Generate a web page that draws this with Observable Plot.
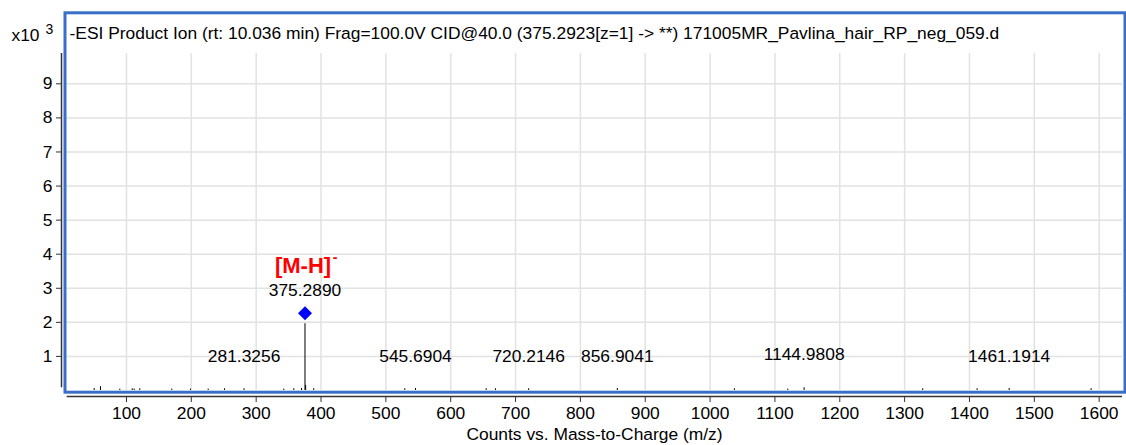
<!DOCTYPE html>
<html><head><meta charset="utf-8">
<script src="https://cdn.jsdelivr.net/npm/d3@7"></script>
<script src="https://cdn.jsdelivr.net/npm/@observablehq/plot@0.6"></script>
<style>
body{margin:0;background:#fff;}
#chart svg{display:block;}
</style>
</head><body><div id="chart"></div>
<script>
// Spectrum peaks (m/z, counts x10^3)
const peakMz = [50.2, 59.9, 89.7, 108.8, 111.9, 120.5, 169.9, 198.7, 226.0, 251.1, 281.3256, 342.6, 358.0, 369.9, 375.2890, 376.29, 388.8, 529.2, 545.6904, 654.7, 669.0, 720.2146, 856.9041, 1037.5, 1119.8, 1144.9808, 1327.9, 1411.8, 1461.1914, 1587.6];
const peakCounts = [0.06, 0.11, 0.04, 0.05, 0.04, 0.05, 0.04, 0.04, 0.04, 0.05, 0.05, 0.04, 0.05, 0.06, 1.96, 0.15, 0.05, 0.05, 0.06, 0.05, 0.05, 0.05, 0.06, 0.05, 0.04, 0.08, 0.05, 0.05, 0.06, 0.05];

// Peak labels
const labelMz = [281.3256, 545.6904, 720.2146, 856.9041, 1144.9808, 1461.1914];
const labelText = ["281.3256", "545.6904", "720.2146", "856.9041", "1144.9808", "1461.1914"];
const labelY = [1.0, 1.0, 1.0, 1.0, 1.05, 1.0];

// Precursor
const precursorMz = [375.2890];
const precursorMarkY = [2.27];
const precursorText = ["375.2890"];
const precursorTextY = [2.93];
const ionText = ["[M-H]"];
const ionTextY = [3.66];
const ionCharge = ["-"];

// Axes
const xTicks = [100, 200, 300, 400, 500, 600, 700, 800, 900, 1000, 1100, 1200, 1300, 1400, 1500, 1600];
const yTicks = [1, 2, 3, 4, 5, 6, 7, 8, 9];
const xDomain = [7.5, 1636];
const yDomain = [0, 9.89];

const titleText = "-ESI Product Ion (rt: 10.036 min) Frag=100.0V CID@40.0 (375.2923[z=1] -> **) 171005MR_Pavlina_hair_RP_neg_059.d";
const xLabel = "Counts vs. Mass-to-Charge (m/z)";
const yScaleText = "x10";
const yScaleExp = "3";

const peaks = peakMz.map((m, i) => ({mz: m, c: peakCounts[i]}));
const labels = labelMz.map((m, i) => ({mz: m, y: labelY[i], t: labelText[i]}));

const blue = "#3a6fc9";
const fs = 17.4;

const chart = Plot.plot({
  width: 1126,
  height: 445,
  marginLeft: 66,
  marginRight: 4,
  marginTop: 53,
  marginBottom: 55,
  style: {fontFamily: "'Liberation Sans', Arial, sans-serif", fontSize: fs + "px", color: "#000", background: "#fff"},
  x: {domain: xDomain},
  y: {domain: yDomain},
  marks: [
    Plot.gridX(xTicks, {stroke: "#e2e2e2", strokeOpacity: 1, strokeWidth: 1.5}),
    Plot.gridY(yTicks, {stroke: "#e2e2e2", strokeOpacity: 1, strokeWidth: 1.5}),
    Plot.frame({stroke: blue, strokeWidth: 3, insetTop: -40.7, insetLeft: -1.5, insetRight: -2.5, insetBottom: -1.7}),
    Plot.ruleX(peaks, {x: "mz", y1: 0, y2: "c", stroke: "#000", strokeWidth: 1}),
    Plot.dot(precursorMz.map((m, i) => ({mz: m, y: precursorMarkY[i]})), {x: "mz", y: "y", symbol: "diamond2", r: 6.3, fill: "#0000ff", stroke: "none"}),
    Plot.text(precursorMz.map((m, i) => ({mz: m, y: precursorTextY[i], t: precursorText[i]})), {x: "mz", y: "y", text: "t", fontSize: fs, fill: "#000"}),
    Plot.text(precursorMz.map((m, i) => ({mz: m, y: ionTextY[i], t: ionText[i]})), {x: "mz", y: "y", text: "t", fontSize: 22, fontWeight: "bold", fill: "#ff0000", dx: -2}),
    Plot.text(precursorMz.map((m, i) => ({mz: m, y: ionTextY[i], t: ionCharge[i]})), {x: "mz", y: "y", text: "t", fontSize: 14, fontWeight: "bold", fill: "#ff0000", dx: 30, dy: -8}),
    Plot.text(labels, {x: "mz", y: "y", text: "t", fontSize: fs, fill: "#000"}),
    // y axis
    Plot.ruleX([xDomain[0]], {y1: 0.08, y2: yDomain[1], dx: -5, stroke: "#333", strokeWidth: 1.5}),
    Plot.axisY(yTicks, {tickSize: 5, dx: -5, tickPadding: 4, fontSize: fs, stroke: "#333", fill: "#000", label: null}),
    // x axis
    Plot.ruleY([0], {x1: xDomain[0] + 1, x2: xDomain[1], dy: 6, stroke: "#333", strokeWidth: 1.5}),
    Plot.axisX(xTicks, {tickSize: 6, dy: 6, tickPadding: 4, fontSize: fs, tickFormat: d => String(d), stroke: "#333", fill: "#000", label: null}),
    // texts
    Plot.text([titleText], {frameAnchor: "top-left", dx: 3, dy: -20, textAnchor: "start", lineAnchor: "middle", fontSize: fs, fill: "#000"}),
    Plot.text([yScaleText], {frameAnchor: "top-left", dx: -55, dy: -18, textAnchor: "start", lineAnchor: "middle", fontSize: fs, fill: "#000"}),
    Plot.text([yScaleExp], {frameAnchor: "top-left", dx: -21, dy: -24, textAnchor: "start", lineAnchor: "middle", fontSize: 14, fill: "#000"}),
    Plot.text([xLabel], {frameAnchor: "bottom", dy: 44, lineAnchor: "middle", fontSize: fs, fill: "#000"})
  ]
});
document.getElementById("chart").appendChild(chart);
</script>
</body></html>
